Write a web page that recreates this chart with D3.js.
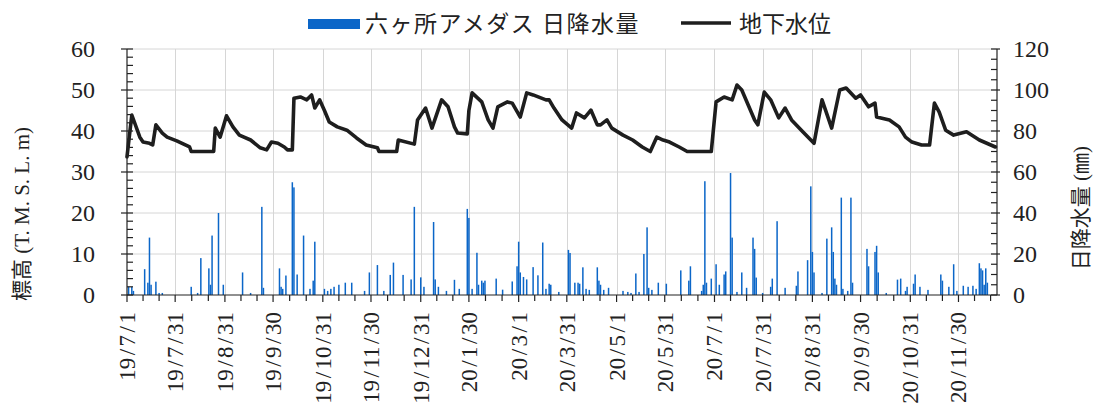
<!DOCTYPE html>
<html><head><meta charset="utf-8">
<script src="https://cdn.jsdelivr.net/npm/d3@7"></script>
<style>body{margin:0;background:#fff}svg{display:block}</style>
</head><body>
<svg id="c" width="1098" height="408"></svg>
<script>
// ---- data ----
const xTickLabels = ["19/7/1","19/7/31","19/8/31","19/9/30","19/10/31","19/11/30","19/12/31","20/1/30","20/3/1","20/3/31","20/5/1","20/5/31","20/7/1","20/7/31","20/8/31","20/9/30","20/10/31","20/11/30"];
const leftTicks = [0,10,20,30,40,50,60];
const rightTicks = [0,20,40,60,80,100,120];
const legendLabels = ["六ヶ所アメダス 日降水量","地下水位"];
const leftTitle = "標高 (T. M. S. L. m)";
const rightTitle = "日降水量 (㎜)";

// daily rainfall (mm, right axis)
const rainfall = [
["2019-07-02",4],["2019-07-04",4],["2019-07-05",2],["2019-07-12",12.6],["2019-07-14",6],["2019-07-15",28],["2019-07-16",5],["2019-07-19",6.5],["2019-07-21",1],["2019-07-23",1],
["2019-08-10",4],["2019-08-14",1],["2019-08-16",18],["2019-08-21",13],["2019-08-22",5],["2019-08-23",29],["2019-08-27",40],["2019-08-30",5],
["2019-09-11",11],["2019-09-16",1],["2019-09-23",43],["2019-09-24",3.5],
["2019-10-04",13],["2019-10-05",4],["2019-10-06",3],["2019-10-08",9.5],["2019-10-12",55],["2019-10-13",52.5],["2019-10-15",10],["2019-10-19",29],["2019-10-23",3],["2019-10-25",7],["2019-10-26",26],
["2019-11-01",3],["2019-11-03",2],["2019-11-05",3],["2019-11-07",4],["2019-11-10",5],["2019-11-14",6],["2019-11-18",6],["2019-11-26",2],["2019-11-29",11],
["2019-12-04",14.6],["2019-12-08",2],["2019-12-12",9.8],["2019-12-14",15.8],["2019-12-20",9.8],["2019-12-25",7.6],["2019-12-27",43],["2019-12-31",8.6],
["2020-01-02",4],["2020-01-08",35.6],["2020-01-09",7.6],["2020-01-11",4],["2020-01-16",2],["2020-01-21",7.4],["2020-01-24",3],["2020-01-29",42],["2020-01-30",37.6],
["2020-02-01",3],["2020-02-04",20.6],["2020-02-05",5],["2020-02-07",7],["2020-02-08",6],["2020-02-09",7],["2020-02-16",8],["2020-02-20",2.6],["2020-02-26",6.6],["2020-02-29",14],
["2020-03-01",26],["2020-03-02",11],["2020-03-04",8.8],["2020-03-06",7.6],["2020-03-10",13.6],["2020-03-13",9.6],["2020-03-16",25.6],["2020-03-18",3],["2020-03-20",5.5],["2020-03-21",5],["2020-03-26",1.5],
["2020-04-01",22],["2020-04-02",20.5],["2020-04-05",6],["2020-04-07",6],["2020-04-08",5.5],["2020-04-10",13.5],["2020-04-12",3],["2020-04-14",2.5],["2020-04-19",13.5],["2020-04-20",7],["2020-04-21",5],["2020-04-23",2.5],["2020-04-26",3.5],
["2020-05-05",2],["2020-05-08",1.5],["2020-05-10",1],["2020-05-13",10.5],["2020-05-15",1.5],["2020-05-18",20],["2020-05-20",33],["2020-05-21",3.5],["2020-05-23",2.5],["2020-05-27",6],
["2020-06-01",5.5],["2020-06-10",12],["2020-06-15",7],["2020-06-16",14],["2020-06-23",2],["2020-06-24",5],["2020-06-25",55.5],["2020-06-26",6],["2020-06-29",8],
["2020-07-02",15],["2020-07-04",5],["2020-07-07",10],["2020-07-08",11.5],["2020-07-11",59.5],["2020-07-12",28],["2020-07-15",1.5],["2020-07-18",11],["2020-07-21",3.5],["2020-07-25",28],["2020-07-26",22.5],["2020-07-27",8.5],["2020-07-31",1],
["2020-08-05",4],["2020-08-06",8],["2020-08-09",36],["2020-08-14",3.5],["2020-08-21",4.5],["2020-08-22",11.5],["2020-08-28",17],["2020-08-30",53],["2020-08-31",21],
["2020-09-01",11],["2020-09-06",1],["2020-09-09",27.5],["2020-09-12",33],["2020-09-13",21],["2020-09-14",8],["2020-09-15",5],["2020-09-18",47.5],["2020-09-19",3],["2020-09-22",2],["2020-09-24",47.5],["2020-09-25",6],
["2020-10-04",22.5],["2020-10-05",14],["2020-10-09",21],["2020-10-10",24],["2020-10-11",11],["2020-10-16",1],["2020-10-23",7.5],["2020-10-25",8],["2020-10-28",2],["2020-10-29",4],
["2020-11-02",5.5],["2020-11-03",10],["2020-11-06",4],["2020-11-11",2.5],["2020-11-19",10],["2020-11-20",7],["2020-11-24",4],["2020-11-27",15],["2020-11-29",2],
["2020-12-03",4.5],["2020-12-06",4],["2020-12-09",4.5],["2020-12-11",3],["2020-12-13",15.5],["2020-12-14",13],["2020-12-15",12],["2020-12-16",5],["2020-12-17",13],["2020-12-18",6]
];

// groundwater level (m, left axis)
const groundwater = [
["2019-07-01",33.7],["2019-07-04",43.9],["2019-07-09",38.5],["2019-07-11",37.3],["2019-07-15",37],["2019-07-17",36.6],["2019-07-19",41.5],["2019-07-23",39.5],["2019-07-26",38.5],
["2019-08-01",37.6],["2019-08-09",36.1],["2019-08-10",35],["2019-08-24",35],["2019-08-25",40.7],["2019-08-28",38.5],
["2019-09-01",43.7],["2019-09-05",41],["2019-09-09",39],["2019-09-16",37.8],["2019-09-22",35.9],["2019-09-26",35.4],["2019-09-29",37.3],
["2019-10-03",37],["2019-10-07",36.1],["2019-10-09",35.4],["2019-10-12",35.4],["2019-10-13",48],["2019-10-17",48.3],["2019-10-21",47.6],["2019-10-24",48.8],["2019-10-26",45.6],["2019-10-29",47.6],
["2019-11-01",45],["2019-11-04",42.2],["2019-11-09",41],["2019-11-15",40.2],["2019-11-21",38.3],["2019-11-27",36.6],
["2019-12-04",35.9],["2019-12-05",35],["2019-12-16",35],["2019-12-17",37.8],["2019-12-27",36.8],["2019-12-29",42.7],
["2020-01-03",45.6],["2020-01-07",40.7],["2020-01-13",47.6],["2020-01-17",45.9],["2020-01-21",41],["2020-01-23",39.5],["2020-01-29",39.3],["2020-01-30",45],
["2020-02-01",49.3],["2020-02-07",47.1],["2020-02-11",42.7],["2020-02-14",40.7],["2020-02-17",45.9],["2020-02-23",47.1],["2020-02-26",46.8],
["2020-03-02",43.4],["2020-03-06",49.3],["2020-03-10",48.8],["2020-03-18",47.6],["2020-03-20",47.6],["2020-03-23",45.6],["2020-03-28",42.7],
["2020-04-03",40.7],["2020-04-06",44.4],["2020-04-11",43.2],["2020-04-15",45.1],["2020-04-19",41.5],["2020-04-21",41.5],["2020-04-25",42.7],["2020-04-28",40.7],
["2020-05-05",39],["2020-05-11",37.8],["2020-05-17",36.1],["2020-05-22",35],["2020-05-26",38.5],["2020-05-30",37.8],
["2020-06-03",37.3],["2020-06-09",36.1],["2020-06-14",35],["2020-06-29",35],
["2020-07-02",47.1],["2020-07-07",48.3],["2020-07-12",47.6],["2020-07-15",51.2],["2020-07-18",50],["2020-07-26",42.7],["2020-07-28",41.5],
["2020-08-01",49.5],["2020-08-05",47.6],["2020-08-10",43.2],["2020-08-14",45.6],["2020-08-18",42.7],["2020-08-25",39.8],
["2020-09-01",37],["2020-09-06",47.6],["2020-09-12",40.7],["2020-09-17",50],["2020-09-21",50.5],["2020-09-27",48],["2020-09-30",48.8],
["2020-10-05",45.9],["2020-10-09",46.8],["2020-10-10",43.4],["2020-10-18",42.7],["2020-10-24",41],["2020-10-28",38.5],
["2020-11-01",37.3],["2020-11-07",36.6],["2020-11-12",36.6],["2020-11-13",40],["2020-11-15",46.8],["2020-11-18",44.6],["2020-11-22",40.2],["2020-11-27",39],
["2020-12-05",39.8],["2020-12-13",37.8],["2020-12-23",36.1]
];

// ---- drawing ----
const parse = d3.timeParse("%Y-%m-%d");
const parseTick = d3.timeParse("%y/%m/%d");
const svg = d3.select("#c");
const L = 127, R = 997, T = 49, B = 295;
const x = d3.scaleTime().domain([parse("2019-07-01"), parse("2020-12-24")]).range([L, R]);
const yL = d3.scaleLinear().domain([0, 60]).range([B, T]);
const yR = d3.scaleLinear().domain([0, 120]).range([B, T]);
const tickDates = xTickLabels.map(parseTick);
const ink = "#222";
const gridC = "#d6d6d6";
const numFont = "'Liberation Serif','Times New Roman',serif";
const cjkFont = "'Liberation Serif','Noto Sans CJK JP',serif";

// grid
const g = svg.append("g");
g.selectAll("line.h").data(leftTicks.filter(v => v > 0)).join("line")
  .attr("x1", L).attr("x2", R).attr("y1", d => yL(d)).attr("y2", d => yL(d))
  .attr("stroke", gridC).attr("stroke-width", 1);
g.selectAll("line.v").data(tickDates.slice(1)).join("line")
  .attr("x1", d => Math.round(x(d)) + 0.5).attr("x2", d => Math.round(x(d)) + 0.5).attr("y1", T).attr("y2", B)
  .attr("stroke", gridC).attr("stroke-width", 1);

// rainfall bars
const blue = "#0b66c8";
svg.append("g").selectAll("rect").data(rainfall).join("rect")
  .attr("x", d => x(parse(d[0])) - 0.75).attr("width", 1.5)
  .attr("y", d => yR(d[1])).attr("height", d => yR(0) - yR(d[1]))
  .attr("fill", blue);

// groundwater line
const line = d3.line().x(d => x(parse(d[0]))).y(d => yL(d[1]));
svg.append("path").datum(groundwater).attr("d", line)
  .attr("fill", "none").attr("stroke", "#1e1e1e").attr("stroke-width", 3.6)
  .attr("stroke-linejoin", "round").attr("stroke-linecap", "round");

// axes
const ax = svg.append("g").attr("stroke", ink).attr("stroke-width", 1.2).attr("fill", "none");
ax.append("line").attr("x1", L).attr("x2", L).attr("y1", T).attr("y2", B);
ax.append("line").attr("x1", R).attr("x2", R).attr("y1", T).attr("y2", B);
ax.append("line").attr("x1", L).attr("x2", R).attr("y1", B).attr("y2", B);
// left ticks
yL.ticks(30).forEach(v => {
  const major = v % 10 === 0;
  ax.append("line").attr("x1", major ? L - 6 : L).attr("x2", L + 6).attr("y1", yL(v)).attr("y2", yL(v));
});
// right ticks
yR.ticks(30).forEach(v => {
  const major = v % 20 === 0;
  ax.append("line").attr("x1", R - 6).attr("x2", major ? R + 3 : R).attr("y1", yR(v)).attr("y2", yR(v));
});
// bottom ticks (major at labels, minor at thirds)
const xs = tickDates.map(d => x(d));
const step = (xs[xs.length - 1] - xs[xs.length - 2]) / 3;
const minorXs = [];
for (let i = 0; i < xs.length - 1; i++) {
  const s = (xs[i + 1] - xs[i]) / 3;
  minorXs.push(xs[i] + s, xs[i] + 2 * s);
}
for (let p = xs[xs.length - 1] + step; p <= R + 2; p += step) minorXs.push(p);
xs.forEach(p => ax.append("line").attr("x1", p).attr("x2", p).attr("y1", B).attr("y2", B + 7));
minorXs.forEach(p => ax.append("line").attr("x1", p).attr("x2", p).attr("y1", B).attr("y2", B + 6));

// tick labels
svg.append("g").selectAll("text").data(leftTicks).join("text")
  .attr("x", 95).attr("y", d => yL(d)).attr("dy", "0.35em").attr("text-anchor", "end")
  .attr("font-family", numFont).attr("font-size", 24).attr("fill", ink).text(d => d);
svg.append("g").selectAll("text").data(rightTicks).join("text")
  .attr("x", 1013).attr("y", d => yR(d)).attr("dy", "0.35em").attr("text-anchor", "start")
  .attr("font-family", numFont).attr("font-size", 24).attr("fill", ink).text(d => d);

const xl = svg.append("g");
xTickLabels.forEach((lab, i) => {
  const t = xl.append("text")
    .attr("transform", `translate(${xs[i] + 8},312) rotate(-90)`)
    .attr("text-anchor", "end")
    .attr("font-family", numFont).attr("font-size", 23).attr("fill", ink);
  lab.split("").forEach((ch, j) => {
    const ts = t.append("tspan").text(ch);
    if (ch === "/") ts.attr("dx", 2.5);
    else if (j > 0 && lab[j - 1] === "/") ts.attr("dx", 2.5);
  });
});

// axis titles
svg.append("text").attr("transform", "translate(29,214) rotate(-90)")
  .attr("text-anchor", "middle").attr("font-family", cjkFont).attr("font-size", 21).attr("fill", ink)
  .text(leftTitle);
svg.append("text").attr("transform", "translate(1088,208) rotate(-90)")
  .attr("text-anchor", "middle").attr("font-family", cjkFont).attr("font-size", 21).attr("fill", ink)
  .text(rightTitle);

// legend
const lg = svg.append("g");
lg.append("rect").attr("x", 308).attr("y", 19).attr("width", 52).attr("height", 10).attr("fill", blue);
lg.append("text").attr("x", 365).attr("y", 24).attr("dy", "0.36em")
  .attr("font-family", "'Noto Sans CJK JP',sans-serif").attr("font-size", 23).attr("letter-spacing", 1.5).attr("fill", ink)
  .text(legendLabels[0]);
lg.append("line").attr("x1", 681).attr("x2", 731).attr("y1", 23).attr("y2", 23)
  .attr("stroke", "#1e1e1e").attr("stroke-width", 3.6);
lg.append("text").attr("x", 739).attr("y", 24).attr("dy", "0.36em")
  .attr("font-family", "'Noto Sans CJK JP',sans-serif").attr("font-size", 23).attr("fill", ink)
  .text(legendLabels[1]);
</script>
</body></html>
